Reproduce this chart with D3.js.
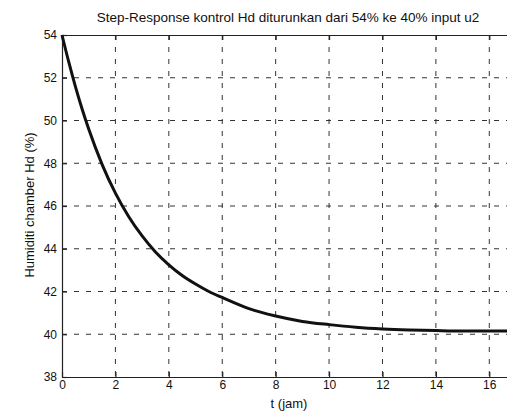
<!DOCTYPE html>
<html>
<head>
<meta charset="utf-8">
<script src="https://cdn.jsdelivr.net/npm/d3@7"></script>
<style>
 body { margin:0; background:#fff; }
 svg text { font-family: "Liberation Sans", Arial, sans-serif; fill:#111; }
</style>
</head>
<body>
<svg id="chart" width="507" height="413"></svg>
<script>
// data
var tJam = [0, 0.25, 0.5, 0.75, 1, 1.5, 2, 2.5, 3, 3.5, 4, 4.5, 5, 5.5, 6, 7, 8, 9, 10, 11, 12, 13, 14, 15, 16, 17];
var hd   = [54, 52.75, 51.6, 50.55, 49.6, 47.95, 46.6, 45.5, 44.6, 43.85, 43.25, 42.75, 42.35, 42.0, 41.72, 41.2, 40.85, 40.6, 40.45, 40.33, 40.25, 40.2, 40.17, 40.15, 40.15, 40.15];
var xTicks = [0, 2, 4, 6, 8, 10, 12, 14, 16];
var yTicks = [38, 40, 42, 44, 46, 48, 50, 52, 54];
var titleText = "Step-Response  kontrol Hd diturunkan dari 54% ke 40% input u2";
var xLabel = "t (jam)";
var yLabel = "Humiditi chamber Hd (%)";

var svg = d3.select("#chart");
// plot box (note: "top" is a window global, so use other names)
var padL = 62, padT = 35, padB = 377, padR = 516;

var x = d3.scaleLinear().domain([0, 17]).range([padL, padR]);
var y = d3.scaleLinear().domain([38, 54]).range([padB, padT]);

// grid
var grid = svg.append("g").attr("stroke", "#333").attr("stroke-width", 1)
    .attr("stroke-dasharray", "5,7");
grid.selectAll("line.v").data(xTicks.slice(1)).enter().append("line")
    .attr("class", "v")
    .attr("x1", function(d) { return x(d); }).attr("x2", function(d) { return x(d); })
    .attr("y1", padT).attr("y2", padB);
grid.selectAll("line.h").data(yTicks.slice(1, -1)).enter().append("line")
    .attr("class", "h")
    .attr("y1", function(d) { return y(d); }).attr("y2", function(d) { return y(d); })
    .attr("x1", padL).attr("x2", padR);

// axes (inward ticks, matlab style)
var xAxis = svg.append("g").attr("transform", "translate(0," + padB + ")")
    .call(d3.axisBottom(x).tickValues(xTicks).tickSizeInner(-5).tickSizeOuter(0).tickPadding(3));
var xTop = svg.append("g").attr("transform", "translate(0," + padT + ")")
    .call(d3.axisTop(x).tickValues(xTicks).tickSizeInner(-5).tickSizeOuter(0).tickFormat(""));
var yAxis = svg.append("g").attr("transform", "translate(" + padL + ",0)")
    .call(d3.axisLeft(y).tickValues(yTicks).tickSizeInner(-5).tickSizeOuter(0).tickPadding(5));

[xAxis, xTop, yAxis].forEach(function(g) {
    g.selectAll("path, line").attr("stroke", "#222").attr("stroke-width", 1.2);
    g.selectAll("text").style("font-size", "12px").attr("fill", "#111");
});

// curve
var line = d3.line()
    .x(function(d, i) { return x(tJam[i]); })
    .y(function(d) { return y(d); })
    .curve(d3.curveMonotoneX);
svg.append("path").datum(hd)
    .attr("d", line)
    .attr("fill", "none")
    .attr("stroke", "#111")
    .attr("stroke-width", 3);

// labels
svg.append("text").attr("x", 288).attr("y", 22).attr("text-anchor", "middle")
    .style("font-size", "13.5px").text(titleText);
svg.append("text").attr("x", 289).attr("y", 408).attr("text-anchor", "middle")
    .style("font-size", "13px").text(xLabel);
svg.append("text").attr("transform", "translate(34,205) rotate(-90)")
    .attr("text-anchor", "middle").style("font-size", "13px").text(yLabel);
</script>
</body>
</html>
